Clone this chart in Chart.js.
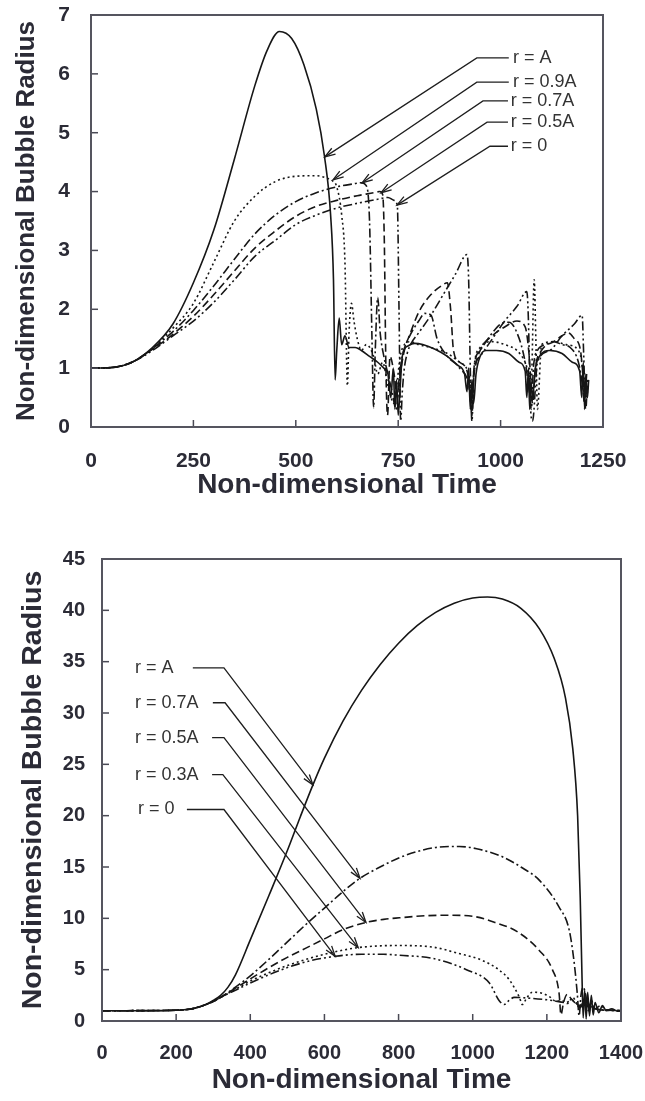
<!DOCTYPE html>
<html><head><meta charset="utf-8">
<script src="https://cdn.jsdelivr.net/npm/chart.js@4.4.1/dist/chart.umd.min.js"></script>
<style>
html,body{margin:0;padding:0;background:#fff;}
#w1{position:absolute;left:0;top:0;width:645px;height:530px;}
#w2{position:absolute;left:0;top:530px;width:645px;height:571px;}
</style></head><body>
<div id="w1"><canvas id="c1"></canvas></div>
<div id="w2"><canvas id="c2"></canvas></div>
<script>
// ---------- TOP CHART DATA ----------
const topXTicks = [0, 250, 500, 750, 1000, 1250];
const topYTicks = [0, 1, 2, 3, 4, 5, 6, 7];
const topLabels = ["r = A", "r = 0.9A", "r = 0.7A", "r = 0.5A", "r = 0"];

const topT_A = [0,50,100,150,200,250,300,350,400,430,460,490,520,550,570,585,592,596,600,606,612,620,630,645,660,680,700,715,725,732,738,742,746,750,755,760,775,790,810,840,870,895,912,918,922,926,930,934,940,950,965,990,1020,1045,1060,1064,1068,1071,1074,1078,1085,1095,1120,1150,1175,1193,1198,1202,1205,1208,1212,1215];
const topR_A = [1.0,1.01,1.1,1.35,1.75,2.45,3.35,4.55,5.8,6.4,6.72,6.6,6.15,5.4,4.6,3.6,2.5,0.8,1.3,1.85,1.4,1.55,1.35,1.35,1.3,1.2,1.1,1.0,0.9,0.5,1.0,0.3,0.8,0.2,0.7,1.2,1.38,1.42,1.4,1.32,1.2,1.05,0.9,0.6,1.0,0.3,0.8,0.4,0.9,1.2,1.3,1.3,1.25,1.1,0.95,0.5,1.0,0.3,0.8,0.5,1.0,1.2,1.3,1.25,1.1,0.95,0.5,1.1,0.3,0.9,0.5,0.8];

const topT_09 = [0,50,100,150,175,200,250,300,350,400,450,500,550,575,590,600,612,620,626,630,636,642,650,660,672,690,700,712,725,740,748,755,765,780,800,830,870,900,925,930,935,950,980,1010,1040,1060,1075,1082,1086,1090,1100,1130,1160,1190,1200,1205,1210];
const topR_09 = [1.0,1.01,1.1,1.33,1.5,1.68,2.1,2.8,3.5,3.92,4.17,4.26,4.27,4.23,4.18,4.08,3.6,2.8,0.7,1.6,2.1,1.8,1.5,1.3,1.4,1.2,0.9,1.1,0.7,0.4,0.8,1.2,1.4,1.45,1.4,1.35,1.25,1.1,0.8,0.3,1.0,1.35,1.45,1.4,1.3,1.1,0.8,2.5,1.5,0.3,1.4,1.45,1.4,1.3,1.0,0.5,0.8];

const topT_07 = [0,50,100,150,180,200,250,300,350,400,450,500,550,600,640,660,672,680,686,690,694,700,706,715,725,735,745,752,760,775,800,815,830,845,870,900,925,930,935,950,980,1000,1020,1040,1060,1070,1075,1080,1090,1110,1130,1150,1170,1190,1200,1205,1210];
const topR_07 = [1.0,1.01,1.1,1.33,1.5,1.62,1.98,2.4,2.85,3.28,3.6,3.83,3.98,4.08,4.13,4.15,4.1,3.5,1.5,0.33,1.3,2.2,1.6,1.2,0.9,0.6,0.3,0.8,1.2,1.5,1.8,1.93,1.9,1.5,1.2,1.0,0.6,0.2,1.0,1.3,1.6,1.75,1.78,1.6,1.1,0.6,0.3,1.0,1.3,1.4,1.45,1.4,1.35,1.1,0.7,0.4,0.9];

const topT_05 = [0,50,100,150,190,250,300,350,400,450,500,550,600,650,690,705,712,716,720,724,730,740,748,755,765,780,800,830,860,870,878,885,900,920,928,935,950,980,1010,1040,1060,1070,1078,1085,1100,1130,1150,1165,1180,1195,1202,1208,1212];
const topR_05 = [1.0,1.01,1.1,1.32,1.52,1.88,2.25,2.65,3.04,3.33,3.58,3.75,3.85,3.93,3.98,4.0,3.95,3.2,1.0,0.2,1.2,0.9,0.5,0.9,1.3,1.6,1.95,2.25,2.42,2.45,2.0,1.3,1.1,0.9,0.4,0.9,1.3,1.55,1.7,1.8,1.7,1.2,0.4,1.0,1.3,1.45,1.55,1.6,1.5,1.3,0.8,0.3,0.8];

const topT_0 = [0,50,100,150,200,250,300,350,400,450,500,550,600,650,700,725,740,748,752,756,760,765,772,780,800,830,860,890,918,922,926,930,935,950,980,1010,1040,1064,1068,1072,1078,1090,1120,1150,1180,1199,1203,1207,1212];
const topR_0 = [1.0,1.01,1.1,1.3,1.55,1.8,2.12,2.5,2.9,3.17,3.44,3.6,3.72,3.8,3.87,3.9,3.85,3.75,2.0,0.1,0.6,1.0,1.25,1.4,1.6,1.9,2.25,2.6,2.93,2.5,1.0,0.1,0.9,1.2,1.5,1.8,2.05,2.3,1.8,0.5,0.1,1.1,1.3,1.55,1.75,1.9,1.2,0.4,0.6];

// annotation anchor points (data units): text, line start (x), elbow, arrow tip
const topNoteText  = [[1030,6.27],[1030,5.86],[1025,5.54],[1025,5.18],[1025,4.77]];
const topNoteStart = [1020,1020,1018,1018,1018];
const topNoteElbow = [[942,6.27],[942,5.86],[957,5.54],[967,5.18],[974,4.77]];
const topNoteTip   = [[571,4.59],[591,4.2],[662,4.15],[708,3.98],[747,3.77]];

// ---------- BOTTOM CHART DATA ----------
const botXTicks = [0, 200, 400, 600, 800, 1000, 1200, 1400];
const botYTicks = [0, 5, 10, 15, 20, 25, 30, 35, 40, 45];
const botLabels = ["r = A", "r = 0.7A", "r = 0.5A", "r = 0.3A", "r = 0"];

const botT_A = [0,100,200,250,280,300,320,340,360,400,450,500,535,569,600,650,700,750,800,850,900,950,1000,1040,1080,1130,1180,1220,1250,1270,1283,1290,1295,1298,1302,1306,1310,1315,1320,1325,1330,1340,1350,1360,1375,1390,1400];
const botR_A = [1.0,1.0,1.05,1.25,1.6,2.0,2.5,3.3,4.5,7.9,12.2,16.6,19.9,23.0,25.6,29.2,32.2,34.7,36.8,38.5,39.8,40.7,41.2,41.3,41.1,40.2,38.2,35.3,31.5,26.5,20.0,12.0,4.0,0.3,3.0,0.2,2.8,0.5,2.5,0.6,1.8,0.8,1.5,1.0,1.2,0.95,1.0];

const botT_07 = [0,200,250,300,320,360,400,450,500,550,600,650,696,750,802,850,900,964,1020,1080,1130,1180,1233,1260,1273,1282,1287,1292,1298,1305,1312,1320,1330,1345,1360,1380,1400];
const botR_07 = [1.0,1.05,1.25,1.9,2.3,3.3,4.4,6.0,7.7,9.4,11.0,12.6,13.9,15.0,15.9,16.5,16.9,17.0,16.7,16.0,15.0,13.7,11.1,8.9,5.9,2.7,0.5,2.5,3.3,2.5,1.0,2.0,1.2,1.5,1.1,1.05,1.0];

const botT_05 = [0,200,250,300,320,360,400,450,500,550,600,650,712,760,802,870,937,1000,1060,1120,1179,1215,1233,1238,1245,1255,1265,1275,1290,1300,1320,1350,1400];
const botR_05 = [1.0,1.05,1.25,1.9,2.3,3.2,4.1,5.2,6.2,7.1,8.0,8.9,9.6,9.9,10.05,10.25,10.3,10.2,9.6,8.7,6.9,5.0,2.7,0.6,1.8,2.6,2.2,1.8,1.3,2.0,1.3,1.1,1.0];

const botT_03 = [0,200,250,300,320,360,400,450,500,550,600,650,691,750,802,892,960,1026,1070,1099,1126,1134,1145,1161,1188,1210,1225,1240,1255,1270,1285,1300,1330,1400];
const botR_03 = [1.0,1.05,1.25,1.9,2.3,3.1,3.9,4.7,5.4,6.0,6.5,6.9,7.15,7.32,7.35,7.2,6.6,5.9,5.0,4.0,2.3,1.6,2.2,2.8,2.7,2.3,1.9,2.0,1.7,2.3,1.5,1.8,1.2,1.0];

const botT_0 = [0,200,250,300,320,360,400,450,500,560,629,700,760,802,892,983,1045,1071,1085,1098,1112,1161,1215,1250,1270,1290,1310,1340,1400];
const botR_0 = [1.0,1.05,1.25,1.9,2.3,3.0,3.7,4.5,5.2,5.85,6.3,6.5,6.5,6.4,6.1,5.0,3.7,2.0,1.6,2.0,2.3,2.2,2.0,1.8,2.0,1.4,1.5,1.1,1.0];

const botNoteText  = [[89,34.4],[89,31.0],[89,27.6],[89,24.0],[97,20.6]];
const botNoteStart = [245,299,297,297,229];
const botNoteElbow = [[329,34.4],[332,31.0],[329,27.6],[326,24.0],[329,20.6]];
const botNoteTip   = [[569,23.0],[696,13.9],[712,9.6],[691,7.15],[629,6.3]];

// ---------- STYLES ----------
const FONT = "'Liberation Sans', Arial, Helvetica, sans-serif";
const TXT = '#2b2b36';
const LINE = '#161616';
const dashes = [[], [2,3], [9,3,2,3], [8,4], [9,3,2,3,2,3]];

function pts(t, r){ return t.map((v,i)=>({x:v, y:r[i]})); }
function ds(label, t, r, k){
  return {label, data: pts(t,r), showLine:true, pointRadius:0, borderColor:LINE,
    borderWidth:1.6, borderDash:dashes[k], cubicInterpolationMode:'monotone', fill:false};
}

const deco = {
  id:'deco',
  afterDraw(chart, args, o){
    const {ctx, chartArea:a, scales:{x,y}} = chart;
    ctx.save();
    ctx.strokeStyle='#4a4a55'; ctx.lineWidth=1.5;
    o.xt.forEach(v=>{const p=x.getPixelForValue(v); ctx.beginPath(); ctx.moveTo(p,a.bottom); ctx.lineTo(p,a.bottom-7); ctx.stroke();});
    o.yt.forEach(v=>{const p=y.getPixelForValue(v); ctx.beginPath(); ctx.moveTo(a.left,p); ctx.lineTo(a.left+7,p); ctx.stroke();});
    ctx.strokeStyle='#55555f'; ctx.lineWidth=2;
    ctx.strokeRect(a.left, a.top, a.right-a.left, a.bottom-a.top);
    ctx.fillStyle=TXT; ctx.textAlign='center'; ctx.textBaseline='middle';
    ctx.font = 'bold '+o.tsize+'px '+FONT;
    ctx.fillText(o.xtitle, (a.left+a.right)/2, a.bottom+o.xtOff);
    ctx.save(); ctx.translate(o.ytX, (a.top+a.bottom)/2); ctx.rotate(-Math.PI/2);
    ctx.font = 'bold '+o.ysize+'px '+FONT;
    ctx.fillText(o.ytitle, 0, 0); ctx.restore();
    ctx.font = o.nsize+'px '+FONT; ctx.textAlign='left'; ctx.fillStyle='#333';
    ctx.strokeStyle='#1e1e1e'; ctx.lineWidth=1.3;
    o.labels.forEach((lab,i)=>{
      const tx=x.getPixelForValue(o.text[i][0]), ty=y.getPixelForValue(o.text[i][1]);
      ctx.fillText(lab, tx, ty);
      const sx=x.getPixelForValue(o.start[i]);
      const ex=x.getPixelForValue(o.elbow[i][0]), ey=y.getPixelForValue(o.elbow[i][1]);
      const px=x.getPixelForValue(o.tip[i][0]), py=y.getPixelForValue(o.tip[i][1]);
      ctx.beginPath(); ctx.moveTo(sx,ey); ctx.lineTo(ex,ey); ctx.lineTo(px,py); ctx.stroke();
      const ang=Math.atan2(py-ey,px-ex), L=11, w=0.32;
      ctx.beginPath();
      ctx.moveTo(px-L*Math.cos(ang-w), py-L*Math.sin(ang-w));
      ctx.lineTo(px,py);
      ctx.lineTo(px-L*Math.cos(ang+w), py-L*Math.sin(ang+w));
      ctx.stroke();
    });
    ctx.restore();
  }
};

function axis(min,max,step,pad,size,fitFn){
  return {type:'linear', min, max,
    ticks:{stepSize:step, padding:pad, color:TXT, maxRotation:0, autoSkip:false,
      callback:v=>String(v),
      font:{family:FONT, size:size, weight:'bold'}},
    grid:{display:false, drawTicks:false}, border:{display:false},
    afterFit:s=>{fitFn(s); s.paddingLeft=0; s.paddingRight=0; s.paddingTop=0; s.paddingBottom=0;}};
}

Chart.defaults.animation=false;

new Chart(document.getElementById('c1'), {
  type:'scatter',
  data:{datasets:[
    ds(topLabels[0], topT_A, topR_A, 0),
    ds(topLabels[1], topT_09, topR_09, 1),
    ds(topLabels[2], topT_07, topR_07, 2),
    ds(topLabels[3], topT_05, topR_05, 3),
    ds(topLabels[4], topT_0, topR_0, 4)]},
  options:{responsive:true, maintainAspectRatio:false, devicePixelRatio:1,
    layout:{padding:{left:0,right:42,top:15,bottom:0}},
    scales:{
      x: axis(topXTicks[0], topXTicks[topXTicks.length-1], 250, 22, 21, s=>{s.height=103;}),
      y: axis(topYTicks[0], topYTicks[topYTicks.length-1], 1, 21, 21, s=>{s.width=91;})
    },
    plugins:{legend:{display:false}, tooltip:{enabled:false},
      deco:{xt:topXTicks, yt:topYTicks, xtitle:'Non-dimensional Time', ytitle:'Non-dimensional Bubble Radius',
        tsize:28, ysize:26, xtOff:58, ytX:27, nsize:18, labels:topLabels,
        text:topNoteText, start:topNoteStart, elbow:topNoteElbow, tip:topNoteTip}}
  },
  plugins:[deco]
});

new Chart(document.getElementById('c2'), {
  type:'scatter',
  data:{datasets:[
    ds(botLabels[0], botT_A, botR_A, 0),
    ds(botLabels[1], botT_07, botR_07, 2),
    ds(botLabels[2], botT_05, botR_05, 3),
    ds(botLabels[3], botT_03, botR_03, 1),
    ds(botLabels[4], botT_0, botR_0, 4)]},
  options:{responsive:true, maintainAspectRatio:false, devicePixelRatio:1,
    layout:{padding:{left:0,right:24,top:29,bottom:0}},
    scales:{
      x: axis(botXTicks[0], botXTicks[botXTicks.length-1], 200, 20, 20, s=>{s.height=80;}),
      y: axis(botYTicks[0], botYTicks[botYTicks.length-1], 5, 17, 20, s=>{s.width=102;})
    },
    plugins:{legend:{display:false}, tooltip:{enabled:false},
      deco:{xt:botXTicks, yt:botYTicks, xtitle:'Non-dimensional Time', ytitle:'Non-dimensional Bubble Radius',
        tsize:28, ysize:28.5, xtOff:59, ytX:33, nsize:18, labels:botLabels,
        text:botNoteText, start:botNoteStart, elbow:botNoteElbow, tip:botNoteTip}}
  },
  plugins:[deco]
});
</script>
</body></html>
